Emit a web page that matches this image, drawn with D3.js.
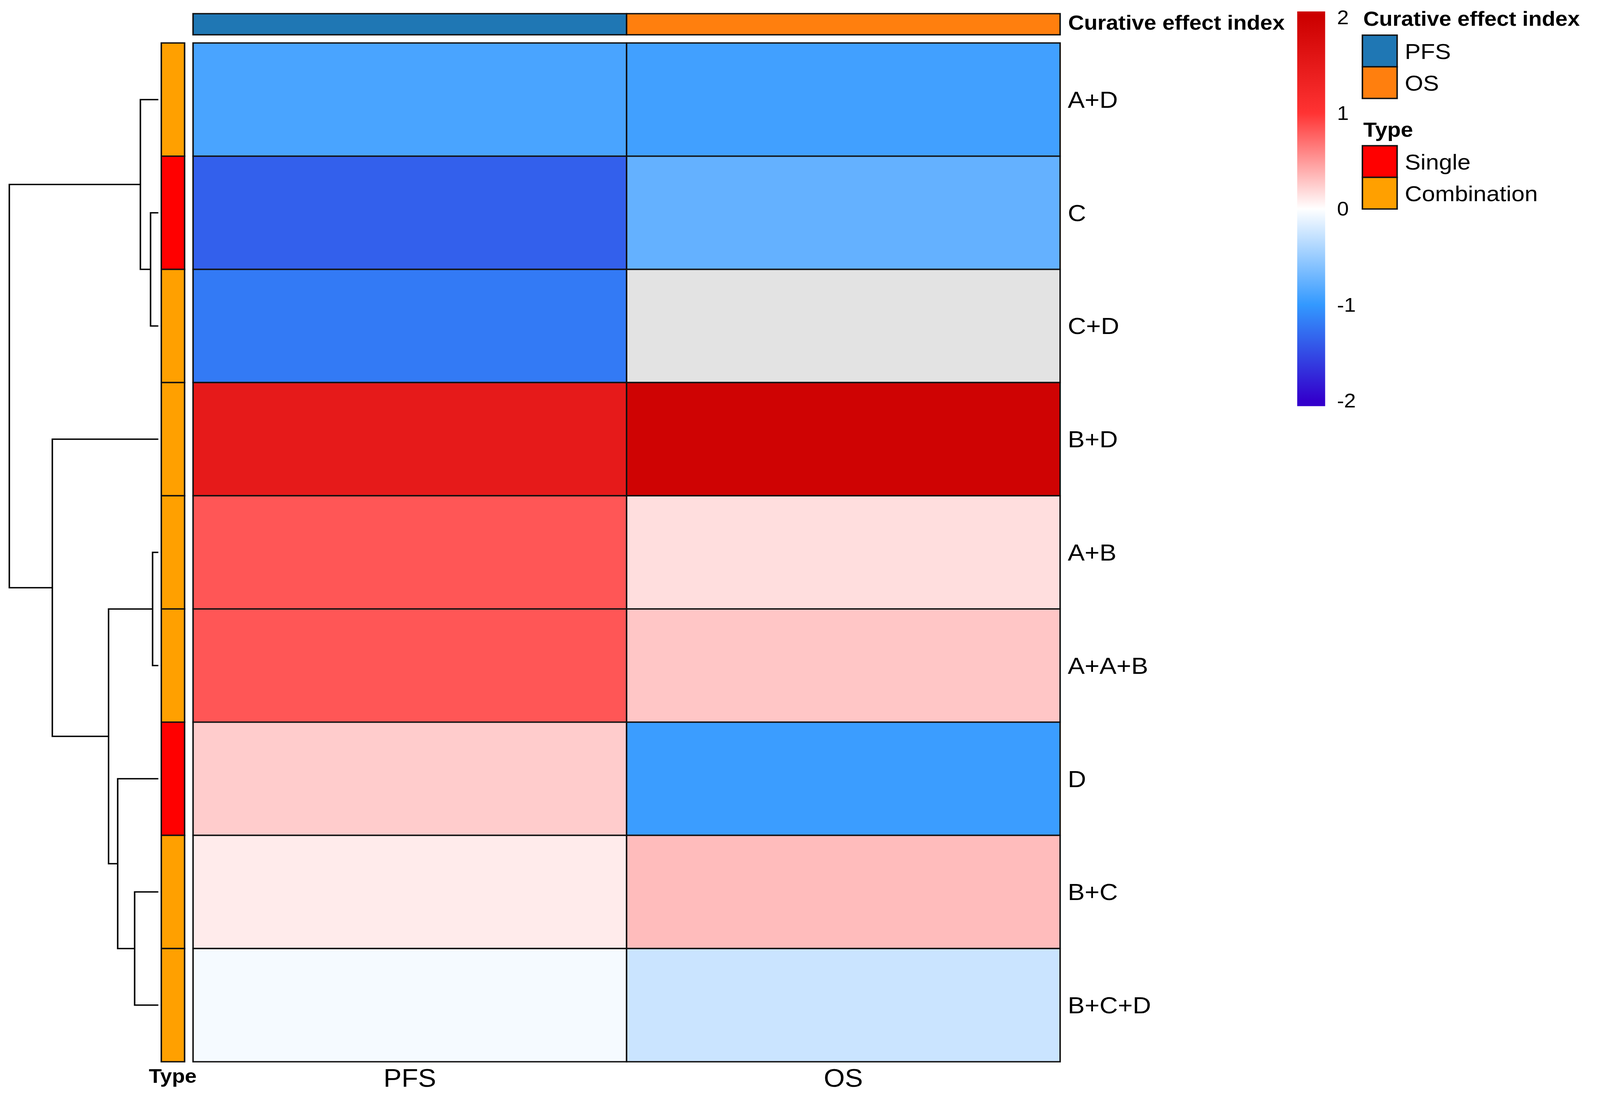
<!DOCTYPE html>
<html>
<head>
<meta charset="utf-8">
<script src="https://cdn.jsdelivr.net/npm/d3@7"></script>
<style>
  html, body { margin: 0; padding: 0; background: #fff; overflow: hidden; }
  #chart { width: 100vw; height: 100vh; }
  svg { display: block; }
  text { font-family: "Liberation Sans", Arial, sans-serif; fill: #000; }
</style>
</head>
<body>
<div id="chart"></div>
<script>
// ---- data ----
const rowLabels = ["A+D", "C", "C+D", "B+D", "A+B", "A+A+B", "D", "B+C", "B+C+D"];
const columns = ["PFS", "OS"];
const pfsValues = [-0.89, -1.37, -1.2, 1.5, 0.83, 0.83, 0.25, 0.1, -0.05];
const osValues = [-0.93, -0.76, null, 1.95, 0.16, 0.28, -0.96, 0.33, -0.26];
const rowTypes = ["Combination", "Single", "Combination", "Combination", "Combination",
  "Combination", "Single", "Combination", "Combination"];
const typeLevels = ["Single", "Combination"];
const typeColors = ["#FF0000", "#FFA000"];
const columnColors = ["#1F77B4", "#FF7F0E"];
const legendTicks = [2, 1, 0, -1, -2];
const paletteStops = [-2, -1, 0, 1, 2];
const paletteColors = ["#3300CC", "#3399FF", "#FFFFFF", "#FF3333", "#CC0000"];
const naColor = "#E3E3E3";

// row dendrogram (merge heights estimated from the branch lengths)
const rowTree = {
  h: 4.4, children: [
    { h: 0.53, children: [{ name: "A+D" }, { h: 0.23, children: [{ name: "C" }, { name: "C+D" }] }] },
    { h: 3.13, children: [
      { name: "B+D" },
      { h: 1.47, children: [
        { h: 0.17, children: [{ name: "A+B" }, { name: "A+A+B" }] },
        { h: 1.2, children: [{ name: "D" }, { h: 0.7, children: [{ name: "B+C" }, { name: "B+C+D" }] }] }
      ] }
    ] }
  ]
};

// ---- layout ----
const width = 4724, height = 2798;
const stretch = 1.25; // the original render is widened horizontally
const heat = { left: 456, right: 2504, top: 110, bottom: 2718 };

const matrix = [];
rowLabels.forEach((r, i) => {
  matrix.push({ row: r, col: "PFS", value: pfsValues[i] });
  matrix.push({ row: r, col: "OS", value: osValues[i] });
});

// the svg fills the window, whatever its css size is
const svg = d3.select("#chart").append("svg")
  .attr("width", "100%").attr("height", "100%")
  .attr("viewBox", `0 0 ${width} ${height}`)
  .attr("preserveAspectRatio", "none");
const g = svg.append("g").attr("transform", `scale(${stretch},1)`);

const x = d3.scaleBand().domain(columns).range([heat.left, heat.right]);
const y = d3.scaleBand().domain(rowLabels).range([heat.top, heat.bottom]);
const color = d3.scaleLinear().domain(paletteStops).range(paletteColors)
  .interpolate(d3.interpolateRgb).clamp(true);
const typeColor = d3.scaleOrdinal().domain(typeLevels).range(typeColors);
const colColor = d3.scaleOrdinal().domain(columns).range(columnColors);

const border = "#111";
const bw = 3.5;

// heatmap cells
g.append("g").selectAll("rect").data(matrix).join("rect")
  .attr("x", d => x(d.col)).attr("y", d => y(d.row))
  .attr("width", x.bandwidth()).attr("height", y.bandwidth())
  .attr("fill", d => d.value == null ? naColor : color(d.value))
  .attr("stroke", border).attr("stroke-width", bw);

// top column annotation
g.append("g").selectAll("rect").data(columns).join("rect")
  .attr("x", d => x(d)).attr("y", 35)
  .attr("width", x.bandwidth()).attr("height", 54)
  .attr("fill", d => colColor(d))
  .attr("stroke", border).attr("stroke-width", bw);
g.append("text").attr("x", 2523).attr("y", 76)
  .attr("font-size", 52).attr("font-weight", "bold")
  .text("Curative effect index");

// row type annotation
g.append("g").selectAll("rect").data(rowLabels).join("rect")
  .attr("x", 381).attr("y", d => y(d))
  .attr("width", 55).attr("height", y.bandwidth())
  .attr("fill", (d, i) => typeColor(rowTypes[i]))
  .attr("stroke", border).attr("stroke-width", bw);
g.append("text").attr("x", 408).attr("y", 2772)
  .attr("text-anchor", "middle").attr("font-size", 50).attr("font-weight", "bold")
  .text("Type");

// row labels
g.append("g").selectAll("text").data(rowLabels).join("text")
  .attr("x", 2522).attr("y", d => y(d) + y.bandwidth() / 2)
  .attr("dy", "0.35em").attr("font-size", 60)
  .text(d => d);

// column labels
g.append("g").selectAll("text").data(columns).join("text")
  .attr("x", d => x(d) + x.bandwidth() / 2).attr("y", 2782)
  .attr("text-anchor", "middle").attr("font-size", 64)
  .text(d => d);

// dendrogram
const root = d3.hierarchy(rowTree);
const hx = d3.scaleLinear().domain([0, rowTree.h]).range([374, 22]);
root.eachAfter(n => {
  if (!n.children) {
    n.px = hx(0);
    n.py = y(n.data.name) + y.bandwidth() / 2;
  } else {
    n.px = hx(n.data.h);
    n.py = d3.mean(n.children, c => c.py);
  }
});
const dendroPath = n => {
  const [a, b] = n.children;
  return `M${a.px},${a.py}H${n.px}V${b.py}H${b.px}`;
};
g.append("g").selectAll("path").data(root.descendants().filter(n => n.children)).join("path")
  .attr("d", dendroPath)
  .attr("fill", "none").attr("stroke", "#000").attr("stroke-width", 3.5);

// colour bar legend
const ly = d3.scaleLinear().domain([-2, 2]).range([1025, 44]);
const grad = svg.append("defs").append("linearGradient")
  .attr("id", "bar-grad").attr("x1", 0).attr("x2", 0).attr("y1", 1).attr("y2", 0);
paletteStops.forEach(v => {
  grad.append("stop")
    .attr("offset", (v + 2.06) / 4.12)
    .attr("stop-color", color(v));
});
g.append("rect")
  .attr("x", 3064).attr("y", ly(2.06))
  .attr("width", 66).attr("height", ly(-2.06) - ly(2.06))
  .attr("fill", "url(#bar-grad)");
g.append("g").selectAll("text").data(legendTicks).join("text")
  .attr("x", 3158).attr("y", d => ly(d)).attr("dy", "0.36em")
  .attr("font-size", 50)
  .text(d => d);

// discrete legends
function discreteLegend(title, levels, fill, titleY, boxTop) {
  g.append("text").attr("x", 3220).attr("y", titleY)
    .attr("font-size", 52).attr("font-weight", "bold").text(title);
  const boxH = 81;
  const items = g.append("g").selectAll("g").data(levels).join("g");
  items.append("rect")
    .attr("x", 3218).attr("y", (d, i) => boxTop + i * boxH)
    .attr("width", 82).attr("height", boxH)
    .attr("fill", d => fill(d))
    .attr("stroke", border).attr("stroke-width", bw);
  items.append("text")
    .attr("x", 3318).attr("y", (d, i) => boxTop + i * boxH + boxH / 2)
    .attr("dy", "0.36em").attr("font-size", 56)
    .text(d => d);
}
discreteLegend("Curative effect index", columns, colColor, 66, 90);
discreteLegend("Type", typeLevels, typeColor, 350, 373);
</script>
</body>
</html>
